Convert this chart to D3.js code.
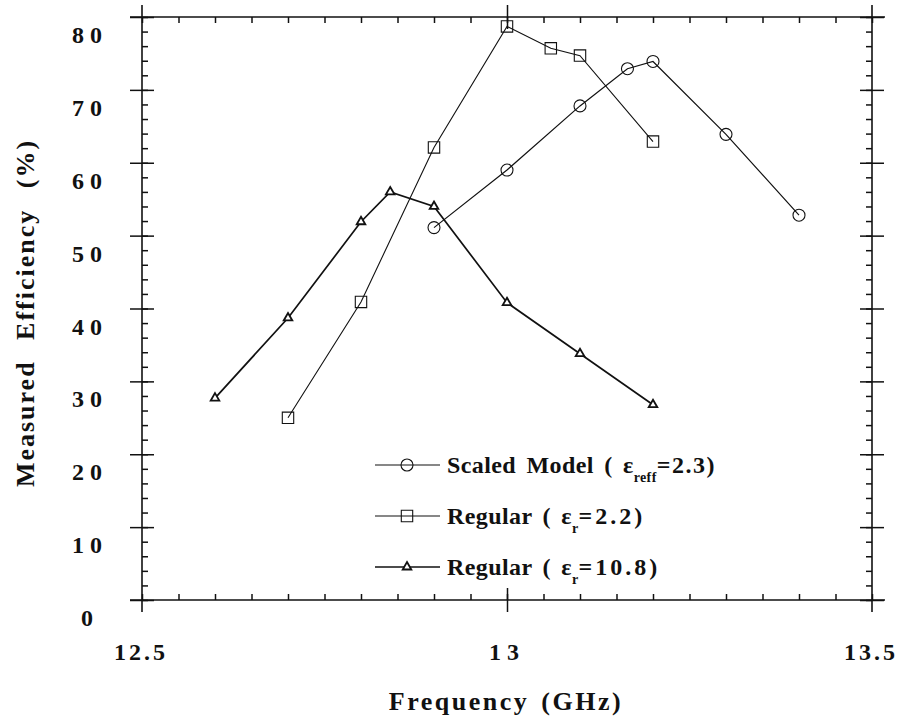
<!DOCTYPE html>
<html>
<head>
<meta charset="utf-8">
<script src="https://cdn.jsdelivr.net/npm/d3@7"></script>
<style>
  body { margin: 0; background: #fff; }
  svg { display: block; }
  text { font-family: "Liberation Serif", "Times New Roman", serif; font-weight: bold; fill: #111; }
</style>
</head>
<body>
<div id="chart"></div>
<script>
// values
const freqCircle = [12.9, 13.0, 13.1, 13.165, 13.2, 13.3, 13.4];
const effCircle = [51.1, 59.0, 67.8, 72.9, 73.9, 63.9, 52.8];

const freqSquare = [12.7, 12.8, 12.9, 13.0, 13.06, 13.1, 13.2];
const effSquare = [25.0, 40.9, 62.1, 78.7, 75.7, 74.7, 62.9];

const freqTriangle = [12.6, 12.7, 12.8, 12.84, 12.9, 13.0, 13.1, 13.2];
const effTriangle = [27.7, 38.7, 51.9, 56.0, 54.0, 40.8, 33.8, 26.8];

const xTickValues = [12.5, 13, 13.5];
const xTickLabels = ["12.5", "13", "13.5"];
const yTickValues = [0, 10, 20, 30, 40, 50, 60, 70, 80];
const yTickLabels = ["0", "10", "20", "30", "40", "50", "60", "70", "80"];

const legendLabels = [
  { main: "Scaled Model ( \u03b5", sub: "reff", tail: "=2.3)" },
  { main: "Regular ( \u03b5", sub: "r", tail: "=2.2)" },
  { main: "Regular ( \u03b5", sub: "r", tail: "=10.8)" }
];

let width = 901,
  height = 724,
  margin = { left: 142, right: 29, top: 17, bottom: 124 };

let svg = d3
  .select("#chart")
  .append("svg")
  .attr("width", width)
  .attr("height", height);

let x = d3
  .scaleLinear()
  .domain([12.5, 13.5])
  .range([margin.left, width - margin.right]);

let y = d3
  .scaleLinear()
  .domain([0, 80])
  .range([height - margin.bottom, margin.top]);

let x0 = x.range()[0],
  x1 = x.range()[1],
  y0 = y.range()[0],
  y1 = y.range()[1];

let minorX = d3.range(12.5, 13.5001, 0.05).map(v => +v.toFixed(2));
let minorY = d3.range(0, 80.001, 2);

// frame lines, extending a little past the corners like the original
let frame = svg.append("g").attr("stroke", "#111").attr("stroke-width", 1.6);
frame.append("line").attr("x1", x0 - 12).attr("x2", x1 + 13).attr("y1", y0).attr("y2", y0);
frame.append("line").attr("x1", x0 - 12).attr("x2", x1 + 13).attr("y1", y1).attr("y2", y1);
frame.append("line").attr("x1", x0).attr("x2", x0).attr("y1", y1 - 12).attr("y2", y0 + 12);
frame.append("line").attr("x1", x1).attr("x2", x1).attr("y1", y1 - 12).attr("y2", y0 + 12);

let tickAxis = (axis, tx, ty) => {
  let g = svg
    .append("g")
    .attr("transform", `translate(${tx},${ty})`)
    .call(axis);
  g.select(".domain").remove();
  g.selectAll("line").attr("stroke", "#111").attr("stroke-width", 1.5);
  g.selectAll("text").remove();
  return g;
};

// minor ticks point inward
tickAxis(d3.axisTop(x).tickValues(minorX).tickSize(6), 0, y0);
tickAxis(d3.axisBottom(x).tickValues(minorX).tickSize(6), 0, y1);
tickAxis(d3.axisRight(y).tickValues(minorY).tickSize(6), x0, 0);
tickAxis(d3.axisLeft(y).tickValues(minorY).tickSize(6), x1, 0);

// major ticks cross the axis lines
[d3.axisTop, d3.axisBottom].forEach(a => {
  tickAxis(a(x).tickValues([13]).tickSize(12), 0, y0);
  tickAxis(a(x).tickValues([13]).tickSize(12), 0, y1);
});
[d3.axisLeft, d3.axisRight].forEach(a => {
  tickAxis(a(y).tickValues(yTickValues).tickSize(12), x0, 0);
  tickAxis(a(y).tickValues(yTickValues).tickSize(12), x1, 0);
});

// tick labels
svg
  .append("g")
  .selectAll("text")
  .data(xTickValues)
  .enter()
  .append("text")
  .attr("x", d => x(d))
  .attr("y", y0 + 60)
  .attr("text-anchor", "middle")
  .attr("font-size", 24)
  .attr("letter-spacing", (d, i) => (xTickLabels[i].includes(".") ? 3 : 6))
  .attr("dx", (d, i) => (xTickLabels[i].includes(".") ? -1 : 0))
  .text((d, i) => xTickLabels[i]);

svg
  .append("g")
  .selectAll("text")
  .data(yTickValues)
  .enter()
  .append("text")
  .attr("x", 90)
  .attr("y", d => y(d) + 26)
  .attr("text-anchor", "middle")
  .attr("font-size", 24)
  .attr("letter-spacing", 6)
  .text((d, i) => yTickLabels[i]);

// axis titles
svg
  .append("text")
  .attr("x", 506)
  .attr("y", 710)
  .attr("text-anchor", "middle")
  .attr("font-size", 26)
  .attr("letter-spacing", 2.5)
  .attr("word-spacing", 3)
  .text("Frequency (GHz)");

svg
  .append("text")
  .attr("transform", "translate(34,313) rotate(-90)")
  .attr("text-anchor", "middle")
  .attr("font-size", 26)
  .attr("letter-spacing", 2)
  .attr("word-spacing", 12)
  .text("Measured Efficiency (%)");

// series
let series = [
  { f: freqCircle, e: effCircle, symbol: d3.symbolCircle, size: 113, width: 1.2 },
  { f: freqSquare, e: effSquare, symbol: d3.symbolSquare, size: 130, width: 1.1 },
  { f: freqTriangle, e: effTriangle, symbol: d3.symbolTriangle, size: 32, width: 1.7 }
];

let line = d3
  .line()
  .x(d => x(d[0]))
  .y(d => y(d[1]));

series.forEach(s => {
  let pts = s.f.map((f, i) => [f, s.e[i]]);
  svg
    .append("path")
    .datum(pts)
    .attr("d", line)
    .attr("fill", "none")
    .attr("stroke", "#111")
    .attr("stroke-width", s.width);

  svg
    .append("g")
    .selectAll("path")
    .data(pts)
    .enter()
    .append("path")
    .attr("transform", d => `translate(${x(d[0])},${y(d[1])})`)
    .attr("d", d3.symbol().type(s.symbol).size(s.size))
    .attr("fill", s.symbol === d3.symbolTriangle ? "#fff" : "none")
    .attr("stroke", "#111")
    .attr("stroke-width", s.symbol === d3.symbolTriangle ? 1.8 : 1.1);
});

// legend
let legendRows = [465, 516, 567];
let legend = svg.append("g");

legendLabels.forEach((lab, i) => {
  let ly = legendRows[i];
  legend
    .append("line")
    .attr("x1", 375)
    .attr("x2", 440)
    .attr("y1", ly)
    .attr("y2", ly)
    .attr("stroke", "#111")
    .attr("stroke-width", series[i].width);
  legend
    .append("path")
    .attr("transform", `translate(407,${ly})`)
    .attr("d", d3.symbol().type(series[i].symbol).size(series[i].size))
    .attr("fill", i === 2 ? "#fff" : "none")
    .attr("stroke", "#111")
    .attr("stroke-width", i === 2 ? 1.8 : 1.1);

  let t = legend
    .append("text")
    .attr("x", 447)
    .attr("y", ly + 8)
    .attr("font-size", 24)
    .attr("letter-spacing", 0.4)
    .attr("word-spacing", 4)
    .attr("xml:space", "preserve");
  t.append("tspan").text(lab.main);
  t.append("tspan").attr("font-size", 14).attr("dy", 9).text(lab.sub);
  t.append("tspan").attr("dy", -9).attr("letter-spacing", i === 0 ? 1.5 : 3).text(lab.tail);
});
</script>
</body>
</html>
